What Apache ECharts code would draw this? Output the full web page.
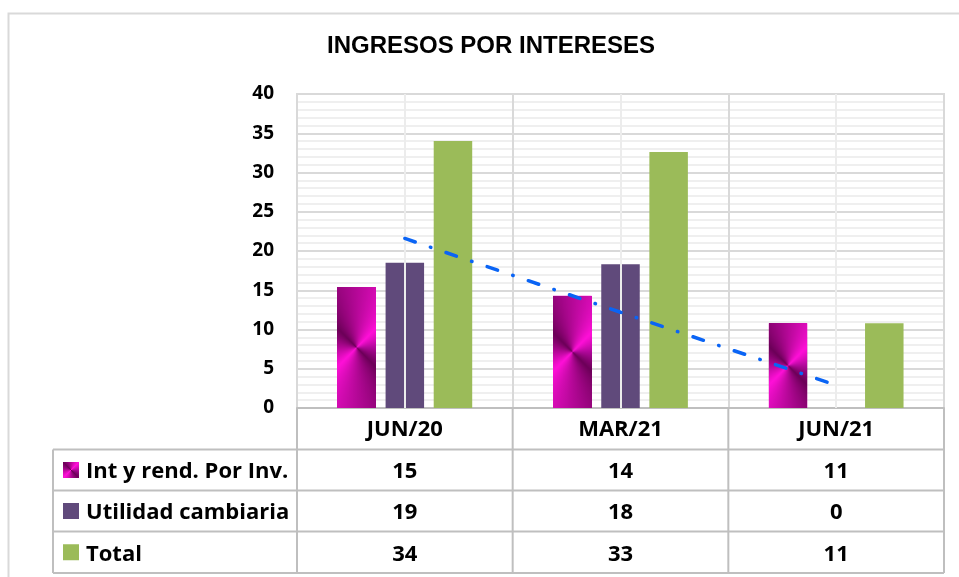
<!DOCTYPE html>
<html><head><meta charset="utf-8">
<script src="https://cdn.jsdelivr.net/npm/echarts@6/dist/echarts.min.js"></script>
<style>html,body{margin:0;padding:0;background:#fff}#c{width:959px;height:577px}</style>
</head><body><div id="c"></div>
<script>
const categories = ['JUN/20', 'MAR/21', 'JUN/21'];
const seriesNames = ['Int y rend. Por Inv.', 'Utilidad cambiaria', 'Total'];
const intRend = [15.4, 14.3, 10.8];
const utilidad = [18.5, 18.3, 0];
const total = [34.0, 32.6, 10.8];
const trendValues = [21.6, 12.2, 2.9];
const yMin = 0, yMax = 40, yInterval = 5;

const COL_PURPLE = '#604a7b', COL_GREEN = '#9bbb59';
const BAR_W = 38.5, BAR_GAP = 0.25;
const FONT = '"Open Sans", Lato, sans-serif';

function conicCanvas(w, h) {
  const c = document.createElement('canvas');
  c.width = Math.max(1, Math.round(w)); c.height = Math.max(1, Math.round(h));
  const ctx = c.getContext('2d');
  let g;
  if (ctx.createConicGradient) {
    g = ctx.createConicGradient(0, c.width / 2, c.height / 2);
    g.addColorStop(0, '#b0089a');
    g.addColorStop(0.125, '#6c0058');
    g.addColorStop(0.375, '#ff10d8');
    g.addColorStop(0.625, '#6c0058');
    g.addColorStop(0.875, '#ff10d8');
    g.addColorStop(1, '#b0089a');
  } else {
    g = ctx.createLinearGradient(c.width, 0, 0, c.height);
    g.addColorStop(0, '#ff10d8'); g.addColorStop(0.5, '#6c0058'); g.addColorStop(1, '#ff10d8');
  }
  ctx.fillStyle = g; ctx.fillRect(0, 0, c.width, c.height);
  return c;
}

const chart = echarts.init(document.getElementById('c'), null, {renderer: 'canvas'});
const magentaFallback = new echarts.graphic.LinearGradient(1, 0, 0, 1, [
  {offset: 0, color: '#ff10d8'}, {offset: 0.5, color: '#6c0058'}, {offset: 1, color: '#ff10d8'}]);

const option = {
  animation: false,
  backgroundColor: '#fff',
  title: {
    text: 'INGRESOS POR INTERESES', left: 491, top: 34, textAlign: 'center', padding: 0,
    textStyle: {fontFamily: '"Liberation Sans", Arial, sans-serif', fontWeight: 'bold', fontSize: 24, color: '#000'}
  },
  grid: {left: 297, right: 15, top: 94, bottom: 169, show: true, borderColor: '#d9d9d9', borderWidth: 2},
  xAxis: {
    type: 'category', data: categories,
    axisLine: {show: true, lineStyle: {color: '#bfbfbf', width: 2}},
    axisTick: {show: false},
    axisLabel: {margin: 11, color: '#000', fontFamily: FONT, fontWeight: 'bold', fontSize: 22},
    splitLine: {show: true, lineStyle: {color: '#d9d9d9', width: 2}}
  },
  yAxis: {
    type: 'value', min: yMin, max: yMax, interval: yInterval,
    axisLine: {show: false}, axisTick: {show: false},
    axisLabel: {margin: 23, color: '#000', fontFamily: FONT, fontWeight: 'bold', fontSize: 19, padding: [3, 0, 0, 0]},
    splitLine: {show: true, lineStyle: {color: '#d9d9d9', width: 2}},
    minorTick: {show: false, splitNumber: 5},
    minorSplitLine: {show: true, lineStyle: {color: '#efefef', width: 2}}
  },
  series: [
    {
      type: 'line', data: [], z: 1, silent: true,
      markLine: {silent: true, symbol: 'none', label: {show: false},
        lineStyle: {color: '#ececec', width: 2, type: 'solid'},
        data: categories.map(c => ({xAxis: c}))}
    },
    {name: seriesNames[0], type: 'bar', data: intRend, barWidth: BAR_W, barGap: (BAR_GAP * 100) + '%',
      itemStyle: {color: magentaFallback}},
    {name: seriesNames[1], type: 'bar', data: utilidad, barWidth: BAR_W, barGap: (BAR_GAP * 100) + '%',
      itemStyle: {color: COL_PURPLE}},
    {name: seriesNames[2], type: 'bar', data: total, barWidth: BAR_W, barGap: (BAR_GAP * 100) + '%',
      itemStyle: {color: COL_GREEN}},
    {
      type: 'custom', z: 3, silent: true,
      data: intRend.map((v, i) => [i, v]),
      renderItem: function (params, api) {
        const i = api.value(0), v = api.value(1);
        const base = api.coord([i, 0]), top = api.coord([i, v]);
        const cx = base[0] - BAR_W - BAR_W * BAR_GAP;
        const h = base[1] - top[1];
        if (h <= 0) return null;
        return {type: 'image', style: {image: conicCanvas(BAR_W, h), x: cx - BAR_W / 2, y: top[1], width: BAR_W, height: h}};
      }
    },
    {
      type: 'line', data: trendValues, z: 10, symbol: 'none', silent: true,
      lineStyle: {color: '#0a64f5', width: 3.5, type: [11, 16, 0.5, 16], cap: 'round'}
    }
  ]
};
chart.setOption(option);

// data table drawn below the plot
const tableLeft = 53, plotLeft = 297, plotRight = 944, axisY = 408;
const rowLines = [449.5, 490.5, 531.5, 573];
const rowsData = [intRend, utilidad, total];
const centers = categories.map((c, i) => chart.convertToPixel({xAxisIndex: 0}, i));
const half = centers.length > 1 ? (centers[1] - centers[0]) / 2 : 108;
const vLines = [plotLeft].concat(centers.map(c => c + half));
const graphics = [];
const stroke = {stroke: '#bfbfbf', lineWidth: 2};
graphics.push({type: 'rect', shape: {x: 8.5, y: 13.5, width: 1000, height: 600}, style: {fill: 'none', stroke: '#d9d9d9', lineWidth: 2}, z: -1});
rowLines.forEach(y => graphics.push({type: 'line', shape: {x1: tableLeft, y1: y, x2: plotRight, y2: y}, style: stroke}));
graphics.push({type: 'line', shape: {x1: tableLeft, y1: rowLines[0], x2: tableLeft, y2: rowLines[3]}, style: stroke});
vLines.forEach(x => graphics.push({type: 'line', shape: {x1: x, y1: axisY, x2: x, y2: rowLines[3]}, style: stroke}));
const swatchColors = [null, COL_PURPLE, COL_GREEN];
const TXT_DY = 2;
seriesNames.forEach((name, r) => {
  const cy = (rowLines[r] + rowLines[r + 1]) / 2;
  if (r === 0) {
    graphics.push({type: 'image', style: {image: conicCanvas(16, 16), x: 63, y: cy - 8, width: 16, height: 16}});
  } else {
    graphics.push({type: 'rect', shape: {x: 63, y: cy - 8, width: 16, height: 16}, style: {fill: swatchColors[r]}});
  }
  graphics.push({type: 'text', x: 86, y: cy + TXT_DY, style: {text: name, fill: '#000', font: 'bold 22px ' + FONT, textVerticalAlign: 'middle', verticalAlign: 'middle'}});
  rowsData[r].forEach((v, i) => {
    graphics.push({type: 'text', x: centers[i], y: cy + TXT_DY, style: {text: String(Math.round(v)), fill: '#000', font: 'bold 22px ' + FONT, align: 'center', verticalAlign: 'middle', textAlign: 'center', textVerticalAlign: 'middle'}});
  });
});
chart.setOption({graphic: graphics});
</script></body></html>
